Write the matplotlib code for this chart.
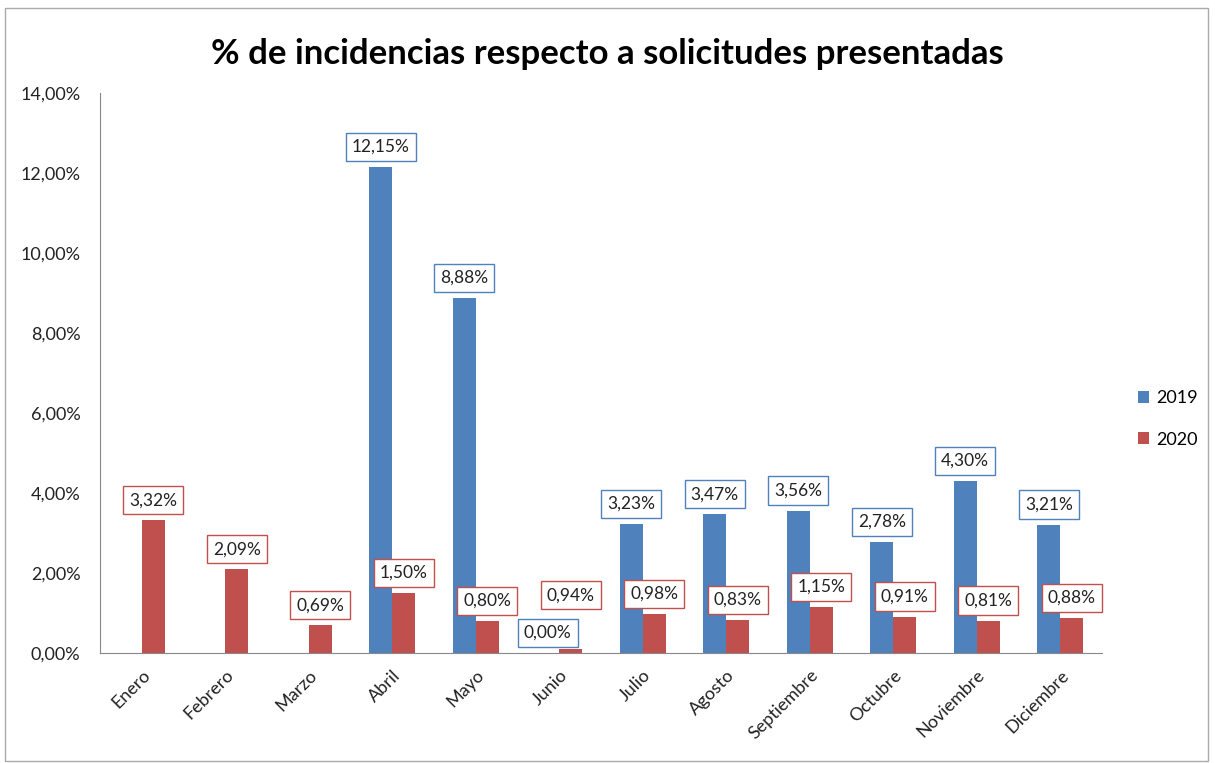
import numpy as np
import matplotlib.pyplot as plt
from matplotlib.patches import Rectangle

# data
meses = ["Enero", "Febrero", "Marzo", "Abril", "Mayo", "Junio", "Julio",
         "Agosto", "Septiembre", "Octubre", "Noviembre", "Diciembre"]
val_2019 = [None, None, None, 12.15, 8.88, 0.00, 3.23, 3.47, 3.56, 2.78, 4.30, 3.21]
val_2020 = [3.32, 2.09, 0.69, 1.50, 0.80, 0.94, 0.98, 0.83, 1.15, 0.91, 0.81, 0.88]
# bar heights as drawn (junio 2020 bar is drawn much shorter than its label)
bar_2020 = [3.32, 2.09, 0.69, 1.50, 0.80, 0.10, 0.98, 0.83, 1.15, 0.91, 0.81, 0.88]
yticks = [0, 2, 4, 6, 8, 10, 12, 14]

c2019 = "#4F81BD"
c2020 = "#C0504D"

plt.rcParams['font.family'] = ['Lato', 'DejaVu Sans']


def fmt(v):
    return ("%.2f%%" % v).replace(".", ",")


fig = plt.figure(figsize=(12.15, 7.63), dpi=100)
ax = fig.add_axes([0.0823, 0.1442, 0.8247, 0.7340])

x = np.arange(len(meses))
w = 0.275

h19 = [np.nan if v is None else v for v in val_2019]
ax.bar(x - w / 2, h19, w, color=c2019, label="2019")
ax.bar(x + w / 2, bar_2020, w, color=c2020, label="2020")

# data labels in boxes
for i, v in enumerate(val_2019):
    if v is None:
        continue
    ax.annotate(fmt(v), (x[i] - w / 2, v), xytext=(0, 20), textcoords="offset pixels",
                ha="center", va="center", fontsize=12.5, color="#222222",
                bbox=dict(boxstyle="square,pad=0.35", fc="white", ec=c2019, lw=1))
for i, v in enumerate(val_2020):
    ax.annotate(fmt(v), (x[i] + w / 2, v), xytext=(0, 20), textcoords="offset pixels",
                ha="center", va="center", fontsize=12.5, color="#222222",
                bbox=dict(boxstyle="square,pad=0.35", fc="white", ec=c2020, lw=1))

ax.set_xlim(-0.5, len(meses) - 0.5)
ax.set_ylim(0, 14)
ax.set_yticks(yticks)
ax.set_yticklabels([fmt(t) for t in yticks], fontsize=13, color="#222222")
ax.set_xticks(x)
ax.set_xticklabels(meses, rotation=45, ha="right", rotation_mode="anchor",
                   fontsize=13, color="#222222")
ax.tick_params(axis="x", length=0, pad=10)
ax.tick_params(axis="y", length=0, pad=14)

for s in ["top", "right"]:
    ax.spines[s].set_visible(False)
for s in ["left", "bottom"]:
    ax.spines[s].set_color("#888888")

fig.suptitle("% de incidencias respecto a solicitudes presentadas",
             fontsize=25, fontweight="bold", y=0.95)

ax.legend(loc="center left", bbox_to_anchor=(1.02, 0.418), frameon=False,
          fontsize=13, handlelength=0.6, handleheight=0.6, labelspacing=1.4,
          handletextpad=0.4)

fig.patches.append(Rectangle((0.004, 0.002), 0.99, 0.988, transform=fig.transFigure,
                             fill=False, ec="#aaaaaa", lw=1))

fig.savefig("out.png", dpi=100)
